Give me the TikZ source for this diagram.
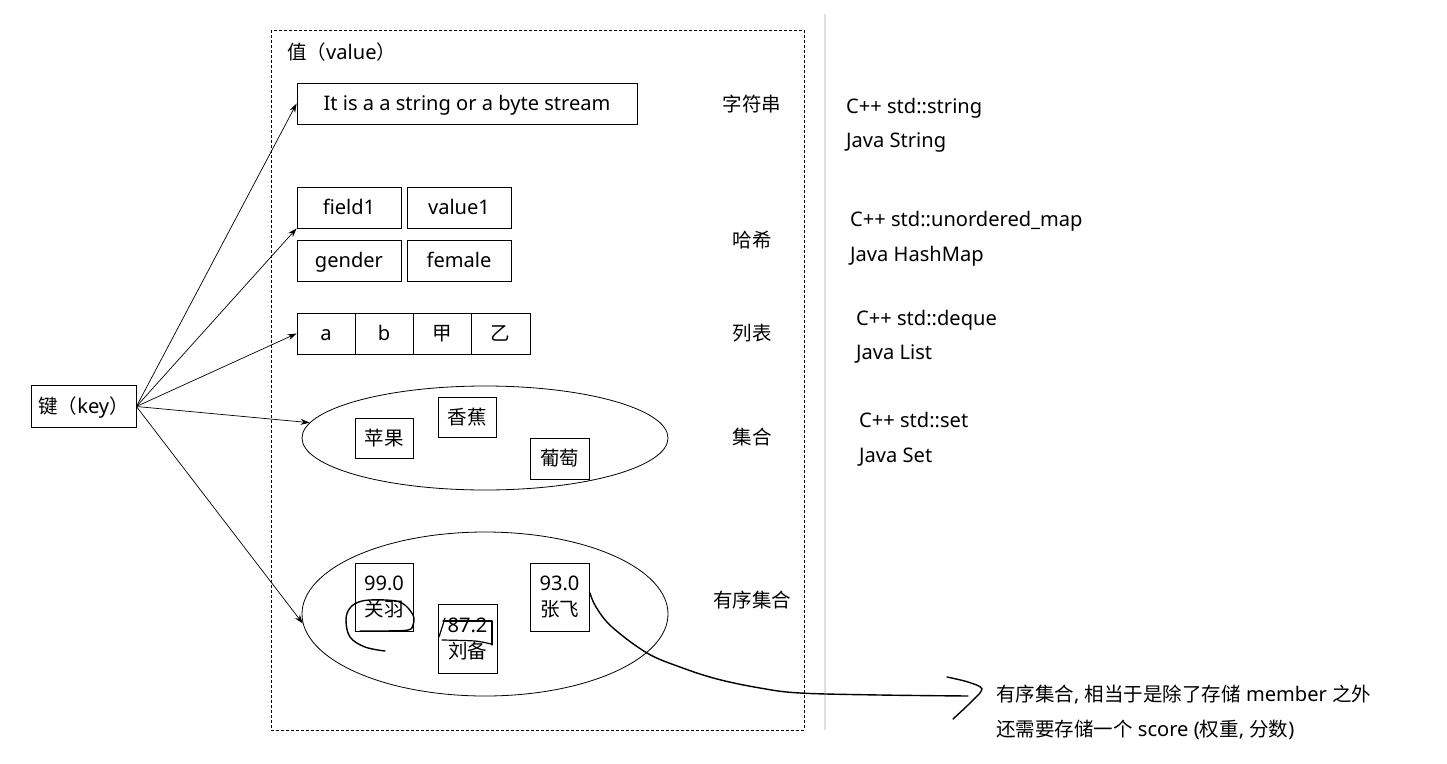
\documentclass[tikz,border=0pt]{standalone}
\usepackage{fontspec}
\setmainfont{Noto Sans}[Scale=1.03]
\newfontfamily\cjk{Noto Sans CJK SC}
\usetikzlibrary{shapes.geometric,arrows.meta}
\begin{document}
\begin{tikzpicture}[x=1pt,y=-1pt,
  every node/.style={font=\fontsize{19.5}{26}\selectfont, inner sep=0pt},
  box/.style={draw, line width=0.8pt, align=center},
  one/.style={text height=14pt, text depth=0pt},
  cell/.style={box, one, minimum height=41pt},
  oval/.style={draw, ellipse, line width=0.8pt, inner sep=0pt},
  link/.style={-{Stealth[length=9pt,width=6pt]}, line width=0.7pt},
  hand/.style={line width=1.4pt, line cap=round, line join=round},
  lbl/.style={one, anchor=center, font=\cjk\fontsize{19.5}{26}\selectfont},
  note/.style={one, anchor=west}]
\useasboundingbox (0,0) rectangle (1447,763);
% frames
\draw[line width=0.8pt, dash pattern=on 3pt off 2pt] (271,30) rectangle (804,730);
\draw[gray!25, line width=1.2pt] (825,14) -- (825,730);
\node[note] (valtitle) at (287,52) {{\cjk 值（}value{\cjk ）}};
% key
\node[cell, minimum width=105pt, minimum height=42pt] (key) at (83.5,406.5) {{\cjk 键（}key{\cjk ）}};
% string
\node[cell, minimum width=340pt] (str) at (467,103.5) {It is a a string or a byte stream};
% hash
\node[cell, minimum width=104pt] (f1) at (349,207.5) {field1};
\node[cell, minimum width=104pt] (v1) at (459,207.5) {value1};
\node[cell, minimum width=104pt] (g1) at (349,260.5) {gender};
\node[cell, minimum width=104pt] (fe) at (459,260.5) {female};
% list
\node[cell, minimum width=58pt] (la) at (326,333.5) {a};
\node[cell, minimum width=58pt] (lb) at (384,333.5) {b};
\node[cell, minimum width=58pt] (lc) at (442,333.5) {\cjk 甲};
\node[cell, minimum width=59pt] (ld) at (500.5,333.5) {\cjk 乙};
% set
\node[oval, minimum width=366pt, minimum height=104pt] (setE) at (485,438) {};
\node[cell, minimum width=58pt, minimum height=40pt] (s1) at (384,438) {\cjk 苹果};
\node[cell, minimum width=58pt, minimum height=40pt] (s2) at (467,417) {\cjk 香蕉};
\node[cell, minimum width=59pt, minimum height=41pt] (s3) at (559.5,458.5) {\cjk 葡萄};
% zset
\node[oval, minimum width=366pt, minimum height=164pt] (zsetE) at (485,614) {};
\node[box, minimum width=58pt, minimum height=68pt] (z1) at (384,597) {99.0\\{\cjk 关羽}};
\node[box, minimum width=59pt, minimum height=69pt] (z2) at (467.5,638.5) {87.2\\{\cjk 刘备}};
\node[box, minimum width=59pt, minimum height=68pt] (z3) at (559.5,597) {93.0\\{\cjk 张飞}};
% type labels
\node[lbl] (t1) at (752,104) {字符串};
\node[lbl] (t2) at (752,240) {哈希};
\node[lbl] (t3) at (752,333) {列表};
\node[lbl] (t4) at (752,437) {集合};
\node[lbl] (t5) at (752,600) {有序集合};
% right notes
\node[note] (c1) at (846,106) {C++ std::string};
\node[note] (j1) at (846,140) {Java String};
\node[note] (c2) at (850,219) {C++ std::unordered\_map};
\node[note] (j2) at (850,254) {Java HashMap};
\node[note] (c3) at (856,318) {C++ std::deque};
\node[note] (j3) at (856,352) {Java List};
\node[note] (c4) at (859,420) {C++ std::set};
\node[note] (j4) at (859,455) {Java Set};
\node[note] (n1) at (996,694) {{\cjk 有序集合}, {\cjk 相当于是除了存储} member {\cjk 之外}};
\node[note] (n2) at (996,729) {{\cjk 还需要存储一个} score ({\cjk 权重}, {\cjk 分数})};
% arrows from key
\draw[link] (key.east) -- (str.west);
\draw[link] (key.east) -- (f1.south west);
\draw[link] (key.east) -- (la.west);
\draw[link] (key.east) -- (setE.175);
\draw[link] (key.east) -- (zsetE.183);
% handwritten marks
\draw[hand] plot[smooth, tension=0.6] coordinates {(385,651) (365,647) (350,637) (346,620) (350,608) (362,601) (385,600) (402,603) (413,615) (413,625) (408,630) (385,631) (360,631)};
\draw[hand, line width=1.2pt] (439,637) -- (445,618);
\draw[hand, line width=1.2pt] (443,621) -- (492,621) -- (492,645);
\draw[hand, line width=1.2pt] plot[smooth] coordinates {(442,640) (475,641) (491,644)};
\coordinate (cstart) at (590,593);
\coordinate (cend) at (968,696);
\draw[hand] plot[smooth, tension=0.6] coordinates {(cstart) (596,607) (612,627) (647,653) (680,667) (717,679) (760,688) (800,693) (880,695) (cend)};
\draw[hand] plot[smooth, tension=0.5] coordinates {(947,677) (968,682) (982,689) (970,703) (953,719)};
\end{tikzpicture}
\end{document}
